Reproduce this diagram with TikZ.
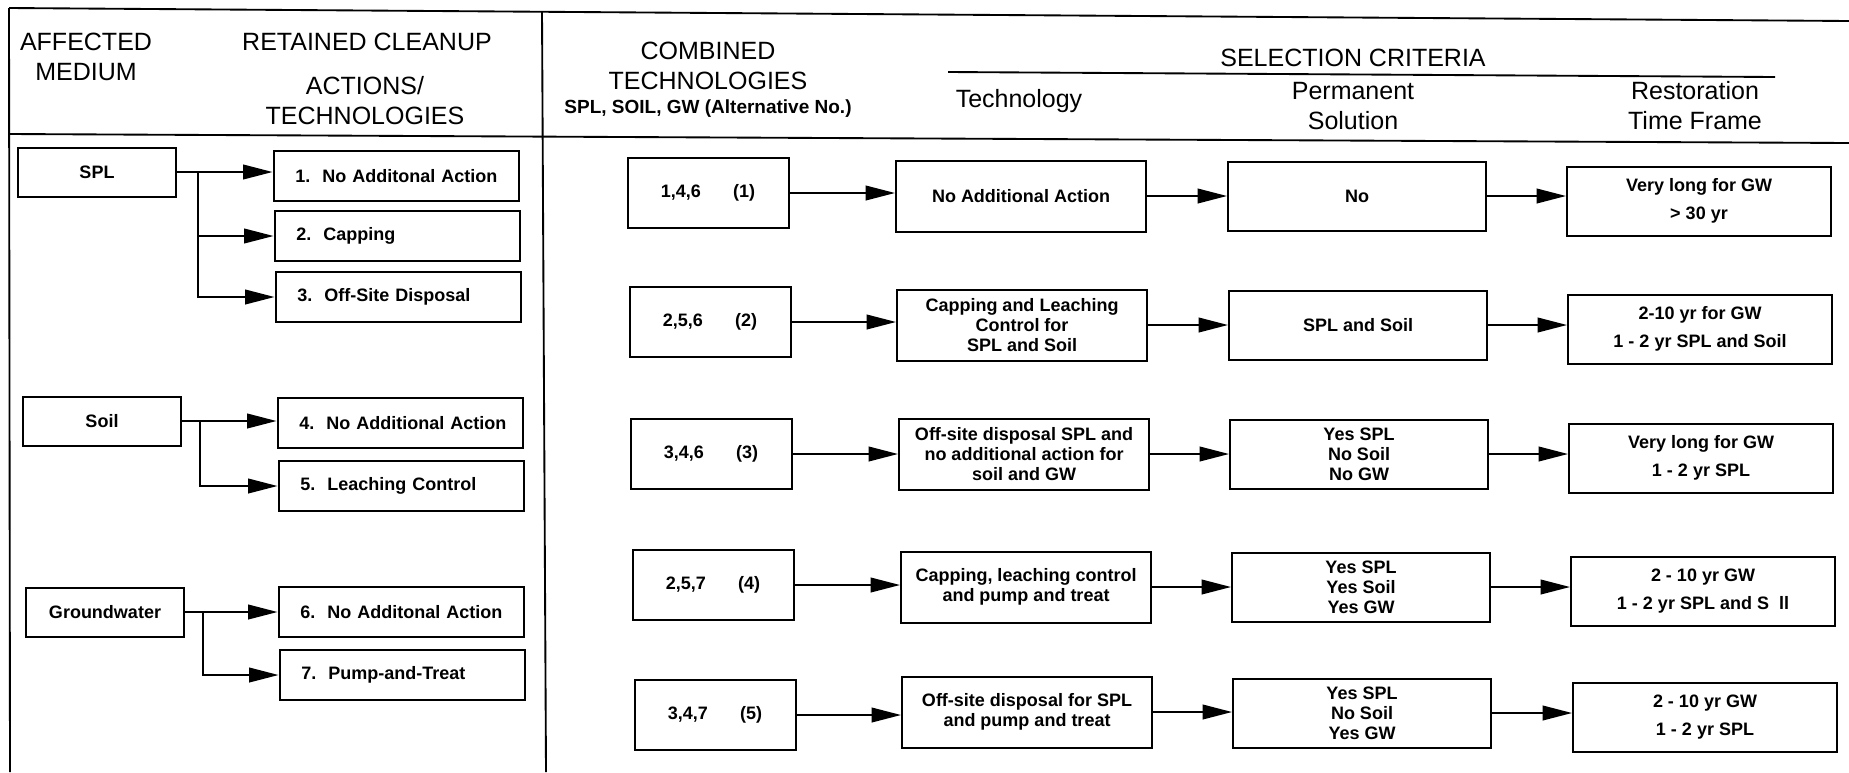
\documentclass[tikz,border=0pt]{standalone}
\usepackage{fontspec}
\setmainfont{Liberation Sans}
\usetikzlibrary{arrows.meta}

\begin{document}
\begin{tikzpicture}[x=0.75pt,y=0.75pt,yscale=-1,xscale=1,
  hdr/.style={inner sep=0pt,align=center,font=\fontsize{18.75}{22.5}\selectfont},
  subhdr/.style={inner sep=0pt,font=\bfseries\fontsize{14.25}{17}\selectfont},
  box/.style={draw,line width=1.5pt,inner sep=0pt,align=center,font=\bfseries\fontsize{13.5}{15}\selectfont},
  medbox/.style={box,minimum width=118.5pt,minimum height=36.75pt},
  actbox/.style={box,minimum height=37.5pt,text width=167pt,inner xsep=8.375pt,align=left,execute at begin node=\hspace*{8pt}},
  combox/.style={box,minimum width=120.75pt,minimum height=52.5pt},
  techbox/.style={box,minimum width=187.5pt,minimum height=53.25pt},
  permbox/.style={box,minimum width=193.5pt,minimum height=51.75pt},
  restbox/.style={box,minimum width=198pt,minimum height=51.75pt,font=\bfseries\fontsize{13.5}{21}\selectfont},
  conn/.style={line width=1.3pt,-{Triangle[length=22pt,width=11pt]}},
  frame/.style={line width=1.4pt}]
\useasboundingbox (0,0) rectangle (1849,772);

%Straight Lines: frame of the table
\draw [frame] (9,8) -- (1849,21) ;
\draw [frame] (9,134) -- (1849,143) ;
\draw [frame] (9,8) -- (10,772) ;
\draw [frame] (542,11) -- (546,772) ;
\draw [frame] (948,72) -- (1775,77) ;

% Text Node
\node [hdr] (affected) at (86,57) {AFFECTED\\MEDIUM};
% Text Node
\node [hdr] (retained) at (367,42) {RETAINED CLEANUP};
% Text Node
\node [hdr] (actions) at (365,101) {ACTIONS/\\TECHNOLOGIES};
% Text Node
\node [hdr] (combined) at (708,66) {COMBINED\\TECHNOLOGIES};
% Text Node
\node [subhdr] (altno) at (708,109) {SPL, SOIL, GW (Alternative No.)};
% Text Node
\node [hdr] (techhdr) at (1019,101) {Technology};
% Text Node
\node [hdr] (selcrit) at (1353,58) {SELECTION CRITERIA};
% Text Node
\node [hdr] (permhdr) at (1353,106) {Permanent\\Solution};
% Text Node
\node [hdr] (resthdr) at (1695,106) {Restoration\\Time Frame};

%Shape: Rectangle -- affected medium
\node [medbox] (spl) at (97,172) {SPL};
\node [medbox] (soil) at (102,421) {Soil};
\node [medbox] (gw) at (105,612) {Groundwater};

%Shape: Rectangle -- retained actions
\node [actbox] (a1) at (396,176) {1.\ \ No Additonal Action};
\node [actbox] (a2) at (397,236) {2.\ \ Capping};
\node [actbox] (a3) at (398,297) {3.\ \ Off-Site Disposal};
\node [actbox] (a4) at (400,423) {4.\ \ No Additional Action};
\node [actbox] (a5) at (401,486) {5.\ \ Leaching Control};
\node [actbox] (a6) at (401,612) {6.\ \ No Additonal Action};
\node [actbox] (a7) at (402,675) {7.\ \ Pump-and-Treat};

%Straight Lines: medium to actions
\coordinate (f1) at (198,172);
\coordinate (f2) at (200,421);
\coordinate (f3) at (203,612);
\draw [conn] (spl.east) -- (spl.east -| a1.west) ;
\draw [conn] (f1) |- (a2.west) ;
\draw [conn] (f1) |- (a3.west) ;
\draw [conn] (soil.east) -- (soil.east -| a4.west) ;
\draw [conn] (f2) |- (a5.west) ;
\draw [conn] (gw.east) -- (gw.east -| a6.west) ;
\draw [conn] (f3) |- (a7.west) ;

%Shape: Rectangle -- combined technologies
\node [combox] (c1) at (708,193) {1,4,6\hspace{1.8em}(1)};
\node [combox] (c2) at (710,322) {2,5,6\hspace{1.8em}(2)};
\node [combox] (c3) at (711,454) {3,4,6\hspace{1.8em}(3)};
\node [combox] (c4) at (713,585) {2,5,7\hspace{1.8em}(4)};
\node [combox] (c5) at (715,715) {3,4,7\hspace{1.8em}(5)};

%Shape: Rectangle -- technology
\node [techbox] (t1) at (1021,196) {No Additional Action};
\node [techbox] (t2) at (1022,325) {Capping and Leaching\\Control for\\SPL and Soil};
\node [techbox] (t3) at (1024,454) {Off-site disposal SPL and\\no additional action for\\soil and GW};
\node [techbox] (t4) at (1026,587) {Capping, leaching control\\and pump and treat};
\node [techbox] (t5) at (1027,712) {Off-site disposal for SPL\\and pump and treat};

%Shape: Rectangle -- permanent solution
\node [permbox] (p1) at (1357,196) {No};
\node [permbox] (p2) at (1358,325) {SPL and Soil};
\node [permbox] (p3) at (1359,454) {Yes SPL\\No Soil\\No GW};
\node [permbox] (p4) at (1361,587) {Yes SPL\\Yes Soil\\Yes GW};
\node [permbox] (p5) at (1362,713) {Yes SPL\\No Soil\\Yes GW};

%Shape: Rectangle -- restoration time frame
\node [restbox] (r1) at (1699,201) {Very long for GW\\> 30 yr};
\node [restbox] (r2) at (1700,329) {2-10 yr for GW\\1 - 2 yr SPL and Soil};
\node [restbox] (r3) at (1701,458) {Very long for GW\\1 - 2 yr SPL};
\node [restbox] (r4) at (1703,591) {2 - 10 yr GW\\1 - 2 yr SPL and S\ \ ll};
\node [restbox] (r5) at (1705,717) {2 - 10 yr GW\\1 - 2 yr SPL};

%Straight Lines: along each alternative
\foreach \i in {1,...,5} {
  \draw [conn] (c\i.east) -- (c\i.east -| t\i.west) ;
  \draw [conn] (t\i.east) -- (t\i.east -| p\i.west) ;
  \draw [conn] (p\i.east) -- (p\i.east -| r\i.west) ;
}

\end{tikzpicture}
\end{document}
